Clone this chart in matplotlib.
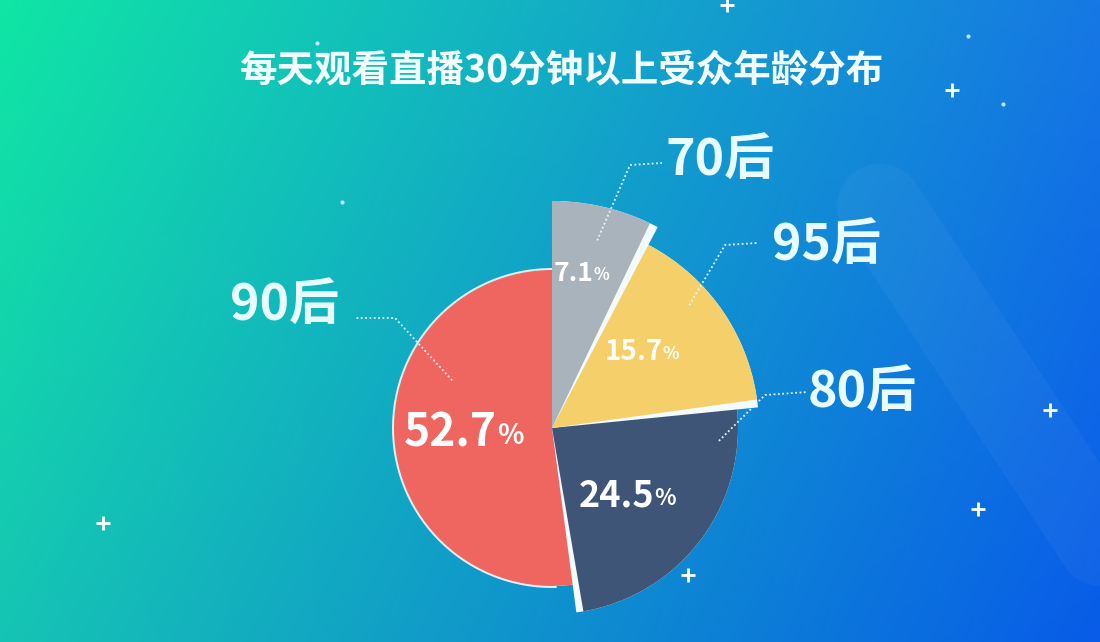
import matplotlib.pyplot as plt
import numpy as np
from matplotlib.patches import Wedge

plt.rcParams['font.family'] = ['Noto Sans CJK SC', 'DejaVu Sans']

title = '每天观看直播30分钟以上受众年龄分布'
groups = ['70后', '95后', '80后', '90后']
shares = [7.1, 15.7, 24.5, 52.7]
colors = ['#a9b3bc', '#f5cf6a', '#3f5577', '#ef6560']

# layout (pixel-like data units, y up)
W, H = 1100, 642
cx, cy = 552, 214
radii = [227, 207, 186, 158]
pct_size = [19, 20, 26, 32]
pct_frac = [0.70, 0.62, 0.62, 0.42]
label_pos = [(720, 482), (826, 397), (862, 250), (285, 337)]
elbow = [(630, 477), (725, 397), (765, 247), (395, 324)]
line_end = [(662, 479), (757, 399), (808, 250), (355, 324)]
lead_t = [0.47, 0.60, 0.86, 0.34]
lead_r = [0.85, 0.89, 0.90, 0.70]

fig = plt.figure(figsize=(11, 6.42), dpi=100)
ax = fig.add_axes([0, 0, 1, 1])
ax.set_xlim(0, W)
ax.set_ylim(0, H)
ax.set_aspect('equal')
ax.axis('off')

# gradient background
tl, tr = np.array([16, 230, 165]), np.array([22, 120, 228])
bl, br = np.array([22, 196, 180]), np.array([8, 92, 232])
u = np.linspace(0, 1, 220)[None, :, None]
v = np.linspace(0, 1, 130)[:, None, None]
top = tl * (1 - u) + tr * u
bot = bl * (1 - u) + br * u
img = (top * (1 - v) + bot * v) / 255
ax.imshow(img, extent=[0, W, 0, H], origin='upper', aspect='auto', zorder=0,
          interpolation='bicubic')

# faint decorative band
ax.plot([880, 1120], [435, 70], color='white', lw=62, alpha=0.04,
        solid_capstyle='round', zorder=1)

# stars and dots
stars = [(727, 5), (952, 90), (1050, 410), (978, 509), (103, 523), (688, 575)]
for sx, sy in stars:
    ax.plot(sx, H - sy, marker='+', ms=10, mew=2, color='white', zorder=1)
dots = [(968, 36), (1003, 104), (342, 202), (317, 43)]
for dx, dy in dots:
    ax.plot(dx, H - dy, marker='o', ms=3, color='#bfe9ff', mew=0, zorder=1)

wedges, _ = ax.pie(shares, colors=colors, startangle=90, counterclock=False,
                   center=(cx, cy), radius=radii[-1], frame=True,
                   wedgeprops=dict(linewidth=0))
ax.set_xlim(0, W)
ax.set_ylim(0, H)
ax.axis('off')

n = len(wedges)
for i, (w, r) in enumerate(zip(wedges, radii)):
    z = 3 + 2 * (n - i)
    w.set_radius(r)
    w.set_zorder(z + 1)
    shadow = Wedge((cx, cy), r, w.theta1 - 2.2, w.theta2 - 2.2,
                   facecolor='#f4fbff', linewidth=0, zorder=z)
    ax.add_patch(shadow)

# light rim on the big slice
big = wedges[-1]
ax.add_patch(Wedge((cx, cy), radii[-1] + 2, big.theta1, big.theta2 - 8,
                   facecolor='#d6f1f8', linewidth=0, zorder=4))

for i, w in enumerate(wedges):
    mid = np.deg2rad((w.theta1 + w.theta2) / 2)
    rr = radii[i] * pct_frac[i]
    px, py = cx + rr * np.cos(mid), cy + rr * np.sin(mid)
    s = pct_size[i]
    num = f'{shares[i]:.1f}'
    ax.text(px + s * 0.35, py, num, fontsize=s, fontweight='bold', color='white',
            ha='right', va='center', zorder=20)
    ax.text(px + s * 0.35, py - s * 0.08, '%', fontsize=s * 0.62, fontweight='bold',
            color='white', ha='left', va='center', zorder=20)

    # leader line
    ang = np.deg2rad(w.theta1 + lead_t[i] * (w.theta2 - w.theta1))
    lr = radii[i] * lead_r[i]
    sx, sy = cx + lr * np.cos(ang), cy + lr * np.sin(ang)
    ex, ey = elbow[i]
    fx, fy = line_end[i]
    ax.plot([sx, ex, fx], [sy, ey, fy], color='#e4f7ff', lw=1.3,
            ls=(0, (1, 1.4)), zorder=21)

    lx, ly = label_pos[i]
    ax.text(lx, ly, groups[i], fontsize=36, fontweight='bold', color='#e8fbff',
            ha='center', va='center', zorder=21)

ax.text(562, H - 70, title, fontsize=27, fontweight='bold', color='#f2fdff',
        ha='center', va='center', zorder=21)

fig.savefig('out.png', dpi=100)
